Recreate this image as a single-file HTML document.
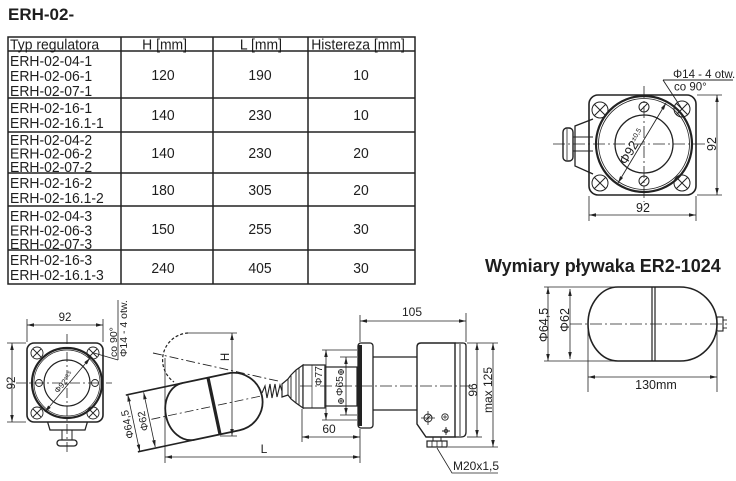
<!DOCTYPE html>
<html><head><meta charset="utf-8">
<style>
html,body{margin:0;padding:0;background:#fff;}
svg{display:block;}
text{font-family:"Liberation Sans",Arial,sans-serif;fill:#1e1e1e;stroke:none;}
</style></head><body>
<svg width="736" height="481" viewBox="0 0 736 481" xmlns="http://www.w3.org/2000/svg">
<defs>
<marker id="a" viewBox="0 0 14 10" refX="14" refY="5" markerWidth="7" markerHeight="5" orient="auto-start-reverse" markerUnits="userSpaceOnUse"><path d="M0,1.5 L14,5 L0,8.5 z" fill="#222"/></marker>
</defs>
<rect width="736" height="481" fill="#fff"/>

<!-- Title -->
<text x="8" y="20" font-size="17" font-weight="bold">ERH-02-</text>

<!-- Table -->
<g stroke="#222" stroke-width="1.5" fill="none">
<rect x="8" y="37" width="407" height="247"/>
<line x1="8" y1="51" x2="415" y2="51"/>
<line x1="8" y1="98" x2="415" y2="98"/>
<line x1="8" y1="132" x2="415" y2="132"/>
<line x1="8" y1="173" x2="415" y2="173"/>
<line x1="8" y1="206" x2="415" y2="206"/>
<line x1="8" y1="250" x2="415" y2="250"/>
<line x1="121" y1="37" x2="121" y2="284"/>
<line x1="213" y1="37" x2="213" y2="284"/>
<line x1="308" y1="37" x2="308" y2="284"/>
</g>
<g transform="scale(0.93,1)" font-size="15">
<text x="10.8" y="49.5">Typ regulatora</text>
<text x="177" y="49.5" text-anchor="middle">H [mm]</text>
<text x="280.6" y="49.5" text-anchor="middle">L [mm]</text>
<text x="385" y="49.5" text-anchor="middle">Histereza [mm]</text>

<text x="10.8" y="66">ERH-02-04-1</text>
<text x="10.8" y="81">ERH-02-06-1</text>
<text x="10.8" y="96">ERH-02-07-1</text>
<text x="175.3" y="80" text-anchor="middle">120</text>
<text x="279.6" y="80" text-anchor="middle">190</text>
<text x="388.2" y="80" text-anchor="middle">10</text>

<text x="10.8" y="113">ERH-02-16-1</text>
<text x="10.8" y="128">ERH-02-16.1-1</text>
<text x="175.3" y="120" text-anchor="middle">140</text>
<text x="279.6" y="120" text-anchor="middle">230</text>
<text x="388.2" y="120" text-anchor="middle">10</text>

<text x="10.8" y="145">ERH-02-04-2</text>
<text x="10.8" y="158.5">ERH-02-06-2</text>
<text x="10.8" y="172">ERH-02-07-2</text>
<text x="175.3" y="158" text-anchor="middle">140</text>
<text x="279.6" y="158" text-anchor="middle">230</text>
<text x="388.2" y="158" text-anchor="middle">20</text>

<text x="10.8" y="188">ERH-02-16-2</text>
<text x="10.8" y="203">ERH-02-16.1-2</text>
<text x="175.3" y="195" text-anchor="middle">180</text>
<text x="279.6" y="195" text-anchor="middle">305</text>
<text x="388.2" y="195" text-anchor="middle">20</text>

<text x="10.8" y="221">ERH-02-04-3</text>
<text x="10.8" y="235.5">ERH-02-06-3</text>
<text x="10.8" y="249">ERH-02-07-3</text>
<text x="175.3" y="234" text-anchor="middle">150</text>
<text x="279.6" y="234" text-anchor="middle">255</text>
<text x="388.2" y="234" text-anchor="middle">30</text>

<text x="10.8" y="265">ERH-02-16-3</text>
<text x="10.8" y="280">ERH-02-16.1-3</text>
<text x="175.3" y="273" text-anchor="middle">240</text>
<text x="279.6" y="273" text-anchor="middle">405</text>
<text x="388.2" y="273" text-anchor="middle">30</text>
</g>

<!-- ===== Top-right plan view ===== -->
<g stroke="#222" fill="none">
<rect x="589" y="95" width="107" height="100" rx="9" stroke-width="1.6"/>
<path d="M593,119 L575,126 L575,166 L593,174" stroke-width="1.3"/>
<line x1="573" y1="137" x2="593" y2="137" stroke-width="1"/>
<line x1="573" y1="151" x2="593" y2="151" stroke-width="1"/>
<rect x="563" y="128" width="10" height="33" rx="4" stroke-width="1.4" fill="#fff"/>
<line x1="567" y1="129" x2="567" y2="160" stroke-width="0.8"/>
<circle cx="644" cy="144" r="48" stroke-width="2.2"/>
<circle cx="644" cy="144" r="45.5" stroke-width="0.8"/>
<circle cx="644" cy="144" r="29" stroke-width="1.3"/>
<g stroke-width="1">
<circle cx="600" cy="110" r="8"/><path d="M594,104 L606,116 M594,116 L606,104"/>
<circle cx="682" cy="109" r="8"/><path d="M676,103 L688,115 M676,115 L688,103"/>
<circle cx="600" cy="183" r="8"/><path d="M594,177 L606,189 M594,189 L606,177"/>
<circle cx="682" cy="183" r="8"/><path d="M676,177 L688,189 M676,189 L688,177"/>
<circle cx="644" cy="107" r="5"/><path d="M641,110 L647,104"/>
<circle cx="644" cy="181" r="5"/><path d="M641,184 L647,178"/>
</g>
<g stroke-width="0.8" stroke-dasharray="12,3,2,3">
<line x1="553" y1="144" x2="706" y2="144"/>
<line x1="644" y1="86" x2="644" y2="202"/>
</g>
<line x1="618" y1="183" x2="666" y2="103" stroke-width="0.9" marker-start="url(#a)" marker-end="url(#a)"/>
<!-- leader -->
<line x1="663" y1="80" x2="682" y2="109" stroke-width="0.9"/>
<line x1="663" y1="80" x2="733" y2="80" stroke-width="0.9"/>
<!-- dims -->
<g stroke-width="0.8">
<line x1="697" y1="95" x2="722" y2="95"/>
<line x1="697" y1="195" x2="722" y2="195"/>
<line x1="717" y1="95" x2="717" y2="195" marker-start="url(#a)" marker-end="url(#a)"/>
<line x1="589" y1="196" x2="589" y2="221"/>
<line x1="696" y1="196" x2="696" y2="221"/>
<line x1="589" y1="215" x2="696" y2="215" marker-start="url(#a)" marker-end="url(#a)"/>
</g>
</g>
<text x="673" y="78" font-size="11.5">Φ14 - 4 otw.</text>
<text x="674" y="90.5" font-size="11.5">co 90°</text>
<text transform="translate(716,144) rotate(-90)" font-size="12.5" text-anchor="middle">92</text>
<text x="643" y="212" font-size="12.5" text-anchor="middle">92</text>
<text transform="translate(636,149) rotate(-59)" font-size="13" text-anchor="middle">Φ92<tspan font-size="7" dy="-5">±0,5</tspan></text>

<!-- ===== Bottom-left plan view ===== -->
<g stroke="#222" fill="none">
<path d="M47,420 L50,430 L85,430 L88,420" stroke-width="1.3"/>
<line x1="62" y1="430" x2="62" y2="440" stroke-width="1"/>
<line x1="72" y1="430" x2="72" y2="440" stroke-width="1"/>
<rect x="57" y="440" width="20" height="6" rx="3" stroke-width="1.3"/>
<rect x="27" y="343" width="76" height="79" rx="7" stroke-width="1.6" fill="#fff"/>
<circle cx="67" cy="383" r="35" stroke-width="2.2"/>
<circle cx="67" cy="383" r="33" stroke-width="0.7"/>
<circle cx="67" cy="383" r="23" stroke-width="1.2"/>
<g stroke-width="0.9">
<circle cx="37" cy="353" r="6"/><path d="M33,349 L41,357 M33,357 L41,349"/>
<circle cx="93" cy="353" r="6"/><path d="M89,349 L97,357 M89,357 L97,349"/>
<circle cx="37" cy="413" r="6"/><path d="M33,409 L41,417 M33,417 L41,409"/>
<circle cx="93" cy="413" r="6"/><path d="M89,409 L97,417 M89,417 L97,409"/>
<circle cx="39" cy="383" r="3.5"/><circle cx="95" cy="383" r="3.5"/>
</g>
<g stroke-width="0.8" stroke-dasharray="10,3,2,3">
<line x1="16" y1="383" x2="112" y2="383"/>
<line x1="67" y1="334" x2="67" y2="452"/>
</g>
<line x1="45" y1="412" x2="90" y2="358" stroke-width="0.8" marker-start="url(#a)" marker-end="url(#a)"/>
<g stroke-width="0.8">
<line x1="27" y1="342" x2="27" y2="319"/>
<line x1="103" y1="342" x2="103" y2="319"/>
<line x1="27" y1="325" x2="103" y2="325" marker-start="url(#a)" marker-end="url(#a)"/>
<line x1="26" y1="343" x2="7" y2="343"/>
<line x1="26" y1="422" x2="7" y2="422"/>
<line x1="12" y1="343" x2="12" y2="422" marker-start="url(#a)" marker-end="url(#a)"/>
<line x1="118" y1="300" x2="118" y2="360"/>
<line x1="118" y1="360" x2="94" y2="353"/>
</g>
</g>
<text x="65" y="321" font-size="11.5" text-anchor="middle">92</text>
<text transform="translate(15,383) rotate(-90)" font-size="11.5" text-anchor="middle">92</text>
<text transform="translate(117,357) rotate(-90)" font-size="10.5">co 90°</text>
<text transform="translate(127,357) rotate(-90)" font-size="10.5">Φ14 - 4 otw.</text>
<text transform="translate(66,384) rotate(-50)" font-size="8" text-anchor="middle">Φ92<tspan font-size="5" dy="-3">±0,5</tspan></text>

<!-- ===== Bottom-middle side view ===== -->
<g stroke="#222" fill="none">
<!-- upper position -->
<path d="M188,333 A27,27 0 0 0 174,382" stroke-width="1.2" stroke-dasharray="3,2"/>
<line x1="153" y1="353" x2="278" y2="381" stroke-width="0.9" stroke-dasharray="9,3,2,3"/>
<!-- float -->
<g transform="translate(214,406) rotate(-12)">
<path d="M-26,-29 L20,-29 A29,29 0 0 1 20,29 L-26,29 A23,29 0 0 1 -26,-29 Z" stroke-width="1.8" fill="#fff"/>
<line x1="0" y1="-29" x2="0" y2="29" stroke-width="3.2"/>
<line x1="-84" y1="-29" x2="-26" y2="-29" stroke-width="1.6"/>
<line x1="-84" y1="29" x2="-26" y2="29" stroke-width="1.6"/>
<line x1="-82" y1="-29" x2="-82" y2="29" stroke-width="0.8" marker-start="url(#a)" marker-end="url(#a)"/>
<line x1="-66" y1="-28" x2="-66" y2="28" stroke-width="0.8" marker-start="url(#a)" marker-end="url(#a)"/>
<line x1="-64" y1="0" x2="50" y2="0" stroke-width="0.8" stroke-dasharray="9,3,2,3"/>
<text transform="translate(-85,0) rotate(-90)" font-size="10.5" text-anchor="middle">Φ64,5</text>
<text transform="translate(-69,0) rotate(-90)" font-size="10.5" text-anchor="middle">Φ62</text>
</g>
<!-- H dim -->
<g stroke-width="0.8">
<line x1="188" y1="333" x2="237" y2="333"/>
<line x1="220" y1="436" x2="237" y2="436"/>
<line x1="232" y1="333" x2="232" y2="436" marker-start="url(#a)" marker-end="url(#a)"/>
<line x1="165" y1="358" x2="165" y2="463"/>
</g>
<!-- spring -->
<path d="M262,393 L265,386 L267,398 L270,384 L272,398 L275,384 L277,397 L280,385 L283,394" stroke-width="1.1"/>
<!-- bellows -->
<path d="M282,384 L288,379 L291,375 L296,370 L303,365 L303,408 L296,403 L291,399 L288,395 L282,397 Z" stroke-width="1.2" fill="#fff"/>
<path d="M288,379 L288,395 M291,375 L291,399 M296,370 L296,403 M299,368 L299,405" stroke-width="0.9"/>
<!-- blocks -->
<rect x="303" y="365" width="22" height="43" stroke-width="1.2" fill="#fff"/>
<line x1="312" y1="365" x2="312" y2="408" stroke-width="0.7"/>
<rect x="325" y="367" width="32" height="39" stroke-width="1.2" fill="#fff"/>
<!-- flange -->
<rect x="358" y="343" width="15" height="85" rx="3" stroke-width="1.3" fill="#fff"/>
<rect x="358" y="345" width="4" height="81" fill="#222" stroke="none"/>
<!-- neck -->
<line x1="373" y1="357" x2="417" y2="357" stroke-width="1.3"/>
<line x1="373" y1="410" x2="417" y2="410" stroke-width="1.3"/>
<!-- housing -->
<path d="M421,343 L455,343 L455,437 L426,437 L417,424 L417,347 Q417,343 421,343 Z" stroke-width="1.4" fill="#fff"/>
<path d="M455,343 L463,343 Q466,343 466,346 L466,432 Q466,437 461,437 L455,437" stroke-width="1.3"/>
<line x1="460" y1="344" x2="460" y2="436" stroke-width="0.9"/>
<circle cx="428" cy="418" r="4" stroke-width="1"/>
<path d="M421,418 L435,418 M428,411 L428,425 M425,421 L431,415" stroke-width="0.8"/>
<circle cx="445" cy="417" r="3.2" stroke-width="0.9"/>
<path d="M443,417 L447,417 M445,415 L445,419" stroke-width="0.7"/>
<path d="M442,431 L450,431 M446,427 L446,435" stroke-width="0.9"/>
<circle cx="446" cy="431" r="1.8" stroke-width="0.8"/>
<!-- gland -->
<line x1="433" y1="437" x2="433" y2="441" stroke-width="1"/>
<line x1="441" y1="437" x2="441" y2="441" stroke-width="1"/>
<rect x="427" y="441" width="20" height="6" stroke-width="1.2"/>
<line x1="432" y1="441" x2="432" y2="447" stroke-width="0.8"/>
<line x1="437" y1="441" x2="437" y2="447" stroke-width="0.8"/>
<line x1="442" y1="441" x2="442" y2="447" stroke-width="0.8"/>
<!-- axis -->
<line x1="300" y1="386" x2="472" y2="386" stroke-width="0.8" stroke-dasharray="12,3,2,3"/>
<!-- bolt symbols -->
<g stroke-width="0.8">
<circle cx="341" cy="372" r="2.5"/><path d="M338,372 L344,372 M341,369 L341,375"/>
<circle cx="341" cy="401" r="2.5"/><path d="M338,401 L344,401 M341,398 L341,404"/>
</g>
<!-- dims -->
<g stroke-width="0.8">
<line x1="322" y1="350" x2="357" y2="350"/>
<line x1="322" y1="420" x2="357" y2="420"/>
<line x1="326" y1="350" x2="326" y2="420" marker-start="url(#a)" marker-end="url(#a)"/>
<line x1="340" y1="357" x2="357" y2="357"/>
<line x1="340" y1="415" x2="357" y2="415"/>
<line x1="346" y1="357" x2="346" y2="415" marker-start="url(#a)" marker-end="url(#a)"/>
<line x1="360" y1="342" x2="360" y2="315"/>
<line x1="466" y1="342" x2="466" y2="313"/>
<line x1="360" y1="321" x2="466" y2="321" marker-start="url(#a)" marker-end="url(#a)"/>
<line x1="467" y1="343" x2="498" y2="343"/>
<line x1="467" y1="437" x2="482" y2="437"/>
<line x1="448" y1="447" x2="498" y2="447"/>
<line x1="477" y1="343" x2="477" y2="437" marker-start="url(#a)" marker-end="url(#a)"/>
<line x1="493" y1="343" x2="493" y2="447" marker-start="url(#a)" marker-end="url(#a)"/>
<line x1="302" y1="409" x2="302" y2="442"/>
<line x1="360" y1="429" x2="360" y2="463"/>
<line x1="302" y1="437" x2="360" y2="437" marker-start="url(#a)" marker-end="url(#a)"/>
<line x1="165" y1="457" x2="360" y2="457" marker-start="url(#a)" marker-end="url(#a)"/>
<path d="M437,448 L452,473 L498,473"/>
</g>
</g>
<text transform="translate(229,357) rotate(-90)" font-size="11.5" text-anchor="middle">H</text>
<text transform="translate(322,376) rotate(-90)" font-size="10.5" text-anchor="middle">Φ77</text>
<text transform="translate(343,386) rotate(-90)" font-size="10.5" text-anchor="middle">Φ65</text>
<text x="412" y="316" font-size="12" text-anchor="middle">105</text>
<text transform="translate(477,390) rotate(-90)" font-size="12" text-anchor="middle">96</text>
<text transform="translate(492,390) rotate(-90)" font-size="12" text-anchor="middle">max 125</text>
<text x="329" y="433" font-size="12" text-anchor="middle">60</text>
<text x="264" y="453" font-size="12" text-anchor="middle">L</text>
<text x="453" y="470" font-size="12">M20x1,5</text>

<!-- ===== Right float ===== -->
<text x="485" y="272" font-size="18" font-weight="bold">Wymiary pływaka ER2-1024</text>
<g stroke="#222" fill="none">
<path d="M618,287 L680,287 A37,37 0 0 1 717,324 A37,37 0 0 1 680,361 L618,361 A30,37 0 0 1 588,324 A30,37 0 0 1 618,287 Z" stroke-width="1.6"/>
<line x1="652" y1="287" x2="652" y2="361" stroke-width="1.2"/>
<line x1="655" y1="287" x2="655" y2="361" stroke-width="1.2"/>
<rect x="717" y="317" width="6" height="14" stroke-width="1.1"/>
<line x1="723" y1="320" x2="727" y2="320" stroke-width="0.9"/>
<line x1="723" y1="328" x2="727" y2="328" stroke-width="0.9"/>
<g stroke-width="0.8">
<line x1="544" y1="287" x2="618" y2="287"/>
<line x1="544" y1="361" x2="618" y2="361"/>
<line x1="548" y1="287" x2="548" y2="361" marker-start="url(#a)" marker-end="url(#a)"/>
<line x1="570" y1="289" x2="570" y2="359" marker-start="url(#a)" marker-end="url(#a)"/>
<line x1="570" y1="324" x2="728" y2="324" stroke-dasharray="12,3,2,3"/>
<line x1="588" y1="326" x2="588" y2="392"/>
<line x1="717" y1="332" x2="717" y2="392"/>
<line x1="588" y1="377" x2="717" y2="377" marker-start="url(#a)" marker-end="url(#a)"/>
</g>
</g>
<text transform="translate(548,325) rotate(-90)" font-size="12.5" text-anchor="middle">Φ64,5</text>
<text transform="translate(569,320) rotate(-90)" font-size="12.5" text-anchor="middle">Φ62</text>
<text x="656" y="389" font-size="12.5" text-anchor="middle">130mm</text>
</svg>
</body></html>
